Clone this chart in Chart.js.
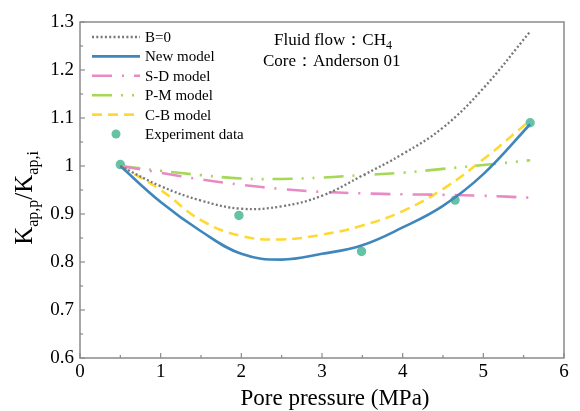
<!DOCTYPE html>
<html>
<head>
<meta charset="utf-8">
<script src="https://cdn.jsdelivr.net/npm/chart.js@4/dist/chart.umd.min.js"></script>
<style>
html,body{margin:0;padding:0;background:#fff;}
canvas{display:block;}
</style>
</head>
<body>
<canvas id="c" width="580" height="411"></canvas>
<script>
// ---- data ----
const pressure = [0.5, 1, 1.5, 2, 2.5, 3, 3.5, 4, 4.5, 5, 5.58];
const b0Values = [1.0, 0.958, 0.928, 0.911, 0.916, 0.938, 0.980, 1.025, 1.08, 1.162, 1.28];
const newModelValues = [1.0, 0.925, 0.864, 0.817, 0.805, 0.817, 0.835, 0.872, 0.917, 0.983, 1.087];
const sdValues = [1.0, 0.986, 0.972, 0.961, 0.952, 0.946, 0.943, 0.941, 0.940, 0.938, 0.934];
const pmValues = [1.0, 0.99, 0.981, 0.974, 0.973, 0.976, 0.981, 0.986, 0.994, 1.002, 1.012];
const cbValues = [1.0, 0.95, 0.887, 0.854, 0.847, 0.857, 0.876, 0.906, 0.952, 1.014, 1.095];
const expPressure = [0.5, 1.97, 3.49, 4.65, 5.58];
const expValues = [1.003, 0.897, 0.822, 0.929, 1.09];
const seriesNames = ['B=0', 'New model', 'S-D model', 'P-M model', 'C-B model', 'Experiment data'];
const xTicks = [0, 1, 2, 3, 4, 5, 6];
const yTicks = [0.6, 0.7, 0.8, 0.9, 1.0, 1.1, 1.2, 1.3];

const SERIF = '"Liberation Serif", "Times New Roman", serif';
const pts = (xs, ys) => xs.map((x, i) => ({x: x, y: ys[i]}));

function lineDs(label, ys, color, dash, width) {
  return {
    type: 'line', label: label, data: pts(pressure, ys),
    borderColor: color, backgroundColor: color, borderWidth: width,
    borderDash: dash, pointRadius: 0, tension: 0.4, fill: false
  };
}

const datasets = [
  lineDs(seriesNames[0], b0Values, '#777777', [2, 2.3], 2.3),
  lineDs(seriesNames[1], newModelValues, '#3f86bc', [], 2.6),
  lineDs(seriesNames[2], sdValues, '#e98ac5', [20, 10, 2, 10], 2.6),
  lineDs(seriesNames[3], pmValues, '#a5d855', [20, 9, 2, 9, 2, 9], 2.6),
  lineDs(seriesNames[4], cbValues, '#ffd92f', [10, 6], 2.6),
  {
    type: 'scatter', label: seriesNames[5], data: pts(expPressure, expValues),
    showLine: false, pointRadius: 4.7, pointHoverRadius: 4.7,
    backgroundColor: '#66c2a5', borderColor: '#66c2a5', borderWidth: 0
  }
];

const decor = {
  id: 'decor',
  afterDraw(chart) {
    const ctx = chart.ctx;
    const a = chart.chartArea;
    const xs = chart.scales.x, ys = chart.scales.y;
    ctx.save();
    // frame
    ctx.strokeStyle = '#8a8a8a';
    ctx.lineWidth = 1.5;
    ctx.setLineDash([]);
    ctx.strokeRect(a.left, a.top, a.right - a.left, a.bottom - a.top);
    // x ticks (inward)
    ctx.lineWidth = 1.2;
    for (let v = 0; v <= 6.001; v += 0.5) {
      const px = xs.getPixelForValue(v);
      const len = (Math.abs(v - Math.round(v)) < 1e-6) ? 5 : 3;
      ctx.beginPath(); ctx.moveTo(px, a.bottom); ctx.lineTo(px, a.bottom - len); ctx.stroke();
    }
    // y ticks (inward)
    for (let k = 0; k <= 14; k++) {
      const v = 0.6 + k * 0.05;
      const py = ys.getPixelForValue(v);
      const len = (k % 2 === 0) ? 5 : 3;
      ctx.beginPath(); ctx.moveTo(a.left, py); ctx.lineTo(a.left + len, py); ctx.stroke();
    }
    // legend
    const lx0 = 92, lx1 = 140, tx = 145;
    ctx.font = '15px ' + SERIF;
    ctx.textBaseline = 'middle';
    ctx.textAlign = 'left';
    chart.data.datasets.forEach((ds, i) => {
      const y = 37 + i * 19.4;
      if (ds.type === 'scatter') {
        ctx.fillStyle = ds.backgroundColor;
        ctx.beginPath(); ctx.arc((lx0 + lx1) / 2, y, 4.5, 0, Math.PI * 2); ctx.fill();
      } else {
        ctx.strokeStyle = ds.borderColor;
        ctx.lineWidth = ds.borderWidth;
        ctx.setLineDash(ds.borderDash || []);
        ctx.beginPath(); ctx.moveTo(lx0, y); ctx.lineTo(lx1, y); ctx.stroke();
        ctx.setLineDash([]);
      }
      ctx.fillStyle = '#000';
      ctx.fillText(ds.label, tx, y + 1);
    });
    // annotation
    ctx.textBaseline = 'alphabetic';
    ctx.font = '17px ' + SERIF;
    let t1 = 'Fluid flow：CH';
    ctx.fillText(t1, 274, 45);
    let w1 = ctx.measureText(t1).width;
    ctx.font = '12px ' + SERIF;
    ctx.fillText('4', 274 + w1, 49);
    ctx.font = '17px ' + SERIF;
    ctx.fillText('Core：Anderson 01', 263, 66);
    // x title
    ctx.font = '23px ' + SERIF;
    ctx.textAlign = 'center';
    ctx.fillText('Pore pressure (MPa)', 335, 405);
    // y title with subscripts
    ctx.translate(32, 198);
    ctx.rotate(-Math.PI / 2);
    const parts = [['K', 25, 0], ['ap,p', 16, 6], ['/K', 25, 0], ['ap,i', 16, 6]];
    let total = 0;
    parts.forEach(p => { ctx.font = p[1] + 'px ' + SERIF; total += ctx.measureText(p[0]).width; });
    let cx = -total / 2;
    ctx.textAlign = 'left';
    parts.forEach(p => {
      ctx.font = p[1] + 'px ' + SERIF;
      ctx.fillText(p[0], cx, p[2]);
      cx += ctx.measureText(p[0]).width;
    });
    ctx.restore();
  }
};

new Chart(document.getElementById('c'), {
  type: 'line',
  data: {datasets: datasets},
  options: {
    responsive: false,
    animation: false,
    events: [],
    layout: {padding: {left: 0, top: 22, right: 16, bottom: 0}},
    plugins: {legend: {display: false}, tooltip: {enabled: false}, title: {display: false}},
    scales: {
      x: {
        type: 'linear', min: 0, max: 6,
        afterBuildTicks: s => { s.ticks = xTicks.map(v => ({value: v})); },
        afterFit: s => { s.height = 53; },
        grid: {display: false, drawTicks: false},
        border: {display: false},
        ticks: {padding: 3, color: '#000', font: {family: SERIF, size: 19}, maxRotation: 0,
                callback: v => String(v)}
      },
      y: {
        type: 'linear', min: 0.6, max: 1.3,
        afterBuildTicks: s => { s.ticks = yTicks.map(v => ({value: v})); },
        afterFit: s => { s.width = 80; },
        grid: {display: false, drawTicks: false},
        border: {display: false},
        ticks: {padding: 6, color: '#000', font: {family: SERIF, size: 19},
                callback: v => String(parseFloat(Number(v).toFixed(1)))}
      }
    }
  },
  plugins: [decor]
});
</script>
</body>
</html>
